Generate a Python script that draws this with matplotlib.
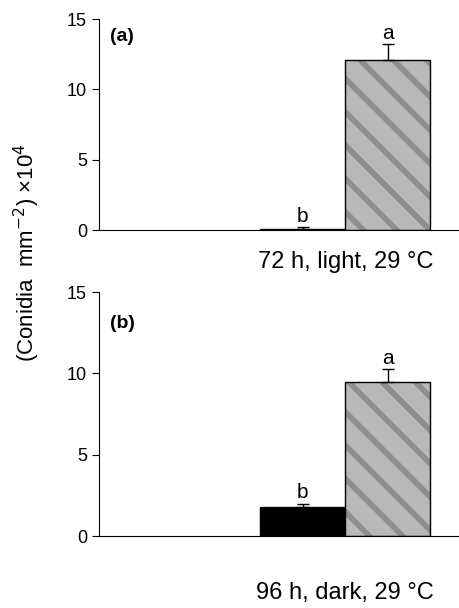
import numpy as np
import matplotlib.pyplot as plt

plt.rcParams['font.family'] = ['Liberation Sans', 'DejaVu Sans']
plt.rcParams['hatch.linewidth'] = 4

# panel (a) 72 h light, panel (b) 96 h dark
conditions = ['72 h, light, 29 °C', '96 h, dark, 29 °C']
panel_tags = ['(a)', '(b)']
means_a = [0.1, 12.1]
errs_a = [0.1, 1.1]
means_b = [1.8, 9.45]
errs_b = [0.2, 0.8]
letters_a = ['b', 'a']
letters_b = ['b', 'a']

fig = plt.figure(figsize=(4.6, 6.08), dpi=100)
ax1 = fig.add_axes([0.215, 0.6217, 0.785, 0.347])
ax2 = fig.add_axes([0.215, 0.1184, 0.785, 0.401])

def draw_panel(ax, means, errs, letters, cond, tag, tag_y, label_drop):
    x = np.arange(len(means))
    ax.bar(x[0], means[0], width=1.0, color='black', edgecolor='black', linewidth=1)
    # gray bar: hatch drawn in gray (edgecolor), then black outline on top
    ax.bar(x[1], means[1], width=1.0, color='#b8b8b8', edgecolor='#8e8e8e',
           linewidth=0, hatch='\\')
    ax.bar(x[1], means[1], width=1.0, fill=False, edgecolor='black', linewidth=1)
    ax.errorbar(x, means, yerr=[np.zeros(len(errs)), errs], fmt='none',
                ecolor='black', elinewidth=1, capsize=4, capthick=1)
    for xi, m, e, lt in zip(x, means, errs, letters):
        ax.text(xi, m + e + 0.35, lt, ha='center', va='baseline', fontsize=15)
    ax.set_xlim(-2.4, 1.85)
    ax.set_ylim(0, 15)
    ax.set_yticks([0, 5, 10, 15])
    ax.set_xticks([])
    ax.spines['top'].set_visible(False)
    ax.spines['right'].set_visible(False)
    ax.tick_params(axis='y', direction='out', length=5, labelsize=13)
    ax.text(0.03, tag_y, tag, transform=ax.transAxes, fontsize=14,
            fontweight='bold', ha='left', va='center')
    ax.text(0.5, -label_drop, cond, transform=ax.get_xaxis_transform(),
            ha='center', va='center', fontsize=17)

draw_panel(ax1, means_a, errs_a, letters_a, conditions[0], panel_tags[0], 0.915, 0.15)
draw_panel(ax2, means_b, errs_b, letters_b, conditions[1], panel_tags[1], 0.873, 0.235)

fig.text(0.058, 0.585, '(Conidia  mm$^{-2}$) ×10$^{4}$', rotation=90,
         ha='center', va='center', fontsize=16)

fig.savefig('out.png', dpi=100)
